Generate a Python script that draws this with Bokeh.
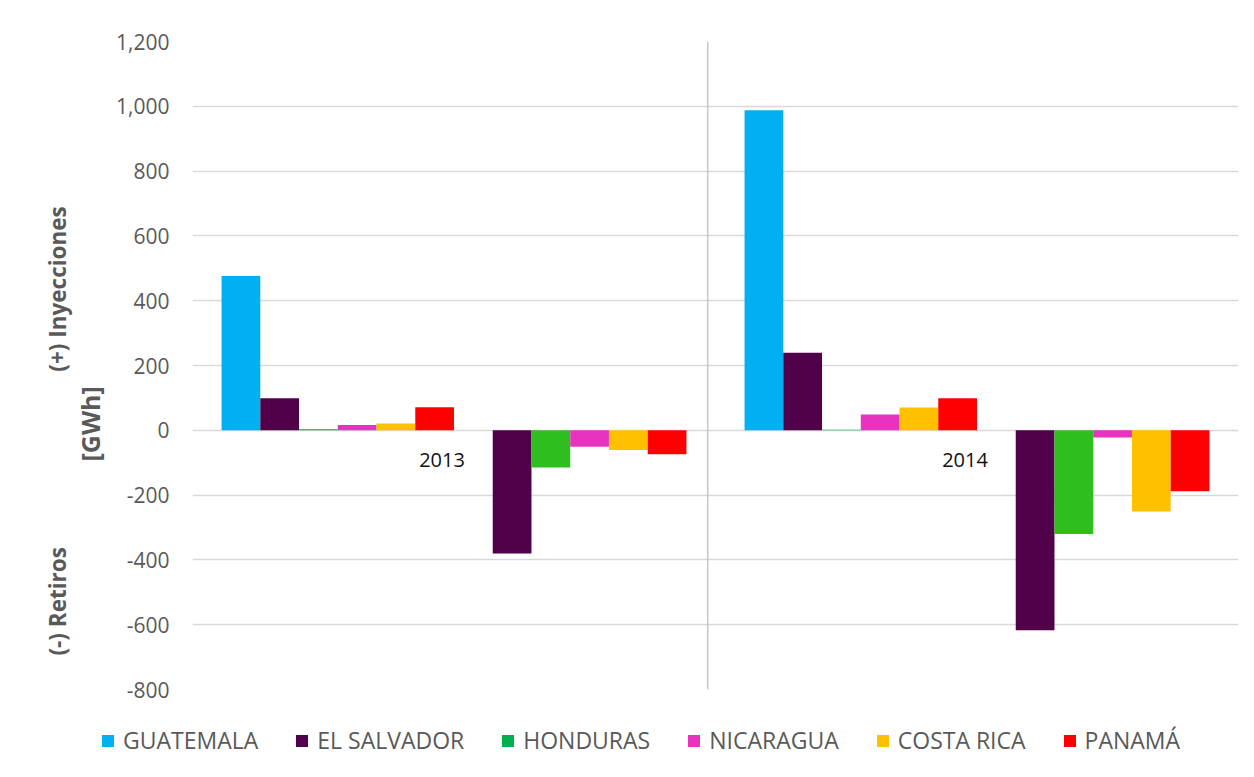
from bokeh.plotting import figure
from bokeh.layouts import column
from bokeh.models import (FactorRange, Range1d, Legend, LegendItem, Span, Title,
                          NumeralTickFormatter, FixedTicker)
from bokeh.core.properties import value
from bokeh.embed import file_html
from bokeh.resources import INLINE

# ---------------- data ----------------
years = ["2013", "2014"]
countries = ["GUATEMALA", "EL SALVADOR", "HONDURAS", "NICARAGUA", "COSTA RICA", "PANAMÁ"]
inj_2013 = [476, 99, 3, 16, 21, 71]
ret_2013 = [0, -380, -115, -51, -61, -74]
inj_2014 = [988, 239, 2, 49, 70, 99]
ret_2014 = [0, -617, -320, -22, -251, -188]
inj_colors = ["#00B0F0", "#51004A", "#00B050", "#E833C1", "#FFC000", "#FF0000"]
ret_colors = ["#00B0F0", "#51004A", "#2EBF1E", "#E833C1", "#FFC000", "#FF0000"]
y_ticks = list(range(-800, 1201, 200))
title_up = "(+) Inyecciones"
title_unit = "[GWh]"
title_down = "(-) Retiros"

FONT = "Open Sans"
GREY = "#595959"

inj_keys = [c + " (+)" for c in countries]
ret_keys = [c + " (-)" for c in countries]
factors = [(y, k) for y in years for k in inj_keys + ret_keys]

x_range = FactorRange(factors=factors, factor_padding=0, group_padding=1.5,
                      range_padding=0.75, range_padding_units="absolute")

p = figure(width=1238, height=720, x_range=x_range, y_range=Range1d(-800, 1200),
           output_backend="svg", toolbar_location=None,
           min_border_left=192, min_border_right=0, min_border_top=41, min_border_bottom=31)
p.outline_line_color = None
p.frame_align = False

inj_vals = {"2013": inj_2013, "2014": inj_2014}
ret_vals = {"2013": ret_2013, "2014": ret_2014}

for i, c in enumerate(countries):
    p.vbar(x=[(y, inj_keys[i]) for y in years], top=[inj_vals[y][i] for y in years],
           bottom=0, width=1.0, fill_color=inj_colors[i], line_color=None)
    p.vbar(x=[(y, ret_keys[i]) for y in years], top=[ret_vals[y][i] for y in years],
           bottom=0, width=1.0, fill_color=ret_colors[i], line_color=None)

# separator between the two year groups
p.add_layout(Span(location=12.55, dimension="height", line_color="#bfbfbf", line_width=1.3))

# year labels near the zero line
p.text(x=years, y=[0, 0], text=years, text_font=value(FONT), text_font_size="20px",
       text_color="#111111", text_align="center", text_baseline="middle",
       x_offset=-12, y_offset=30)

# axes
p.xaxis.visible = False
p.xgrid.grid_line_color = None
p.ygrid.grid_line_color = "#d9d9d9"
p.ygrid.grid_line_width = 1.3
yax = p.yaxis[0]
yax.ticker = FixedTicker(ticks=y_ticks)
yax.formatter = NumeralTickFormatter(format="0,0")
yax.axis_line_color = None
yax.major_tick_line_color = None
yax.minor_tick_line_color = None
yax.major_tick_out = 0
yax.major_tick_in = 0
yax.major_label_standoff = 23
yax.major_label_text_font = FONT
yax.major_label_text_font_size = "21px"
yax.major_label_text_color = GREY

# axis titles (left side panels), bottom-aligned with offsets from the frame bottom
gap = "\u00a0" * 30
t_unit = Title(text=title_unit, align="left", offset=228, standoff=14,
               text_font=FONT, text_font_size="25px", text_font_style="bold", text_color=GREY)
t_main = Title(text=title_down + gap + title_up, align="left", offset=34, standoff=-18,
               text_font=FONT, text_font_size="22.5px", text_font_style="bold", text_color=GREY)
p.add_layout(t_unit, "left")
p.add_layout(t_main, "left")

# legend in its own strip below the chart
pl = figure(width=1238, height=41, x_range=Range1d(0, 1), y_range=Range1d(0, 1),
            output_backend="svg", toolbar_location=None, min_border=0,
            min_border_left=0, min_border_right=0, min_border_top=0, min_border_bottom=0)
pl.axis.visible = False
pl.grid.visible = False
pl.outline_line_color = None
pl.frame_align = False
legend_items = []
for i, c in enumerate(countries):
    r = pl.vbar(x=[0.5], top=[0], bottom=[0], width=0, fill_color=inj_colors[i], line_color=None)
    legend_items.append(LegendItem(label=c, renderers=[r]))
legend = Legend(items=legend_items, orientation="horizontal", location=(100, 5),
                glyph_width=15, glyph_height=15, label_standoff=8, spacing=36,
                padding=0, margin=0, border_line_color=None, background_fill_alpha=0,
                label_text_font=FONT, label_text_font_size="23px", label_text_color=GREY)
pl.add_layout(legend)

open("out.html", "w").write(file_html(column(p, pl, spacing=0), INLINE))
